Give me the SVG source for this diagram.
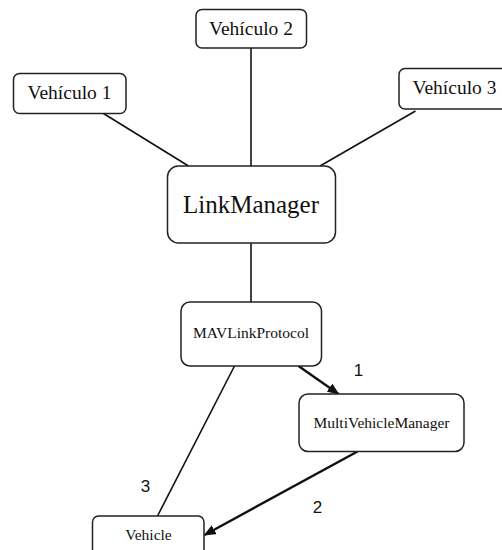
<svg xmlns="http://www.w3.org/2000/svg" width="502" height="550" viewBox="0 0 502 550">
<style>
.box{fill:#fff;stroke:#222;stroke-width:1.5}
.t{font-family:"Liberation Serif","Times New Roman",serif;fill:#111;text-anchor:middle}
.n{font-family:"Liberation Sans",Arial,sans-serif;font-size:17px;fill:#111;text-anchor:middle}
.ln{stroke:#111;stroke-width:1.6;fill:none}
.ar{stroke:#111;stroke-width:2.4;fill:none;marker-end:url(#ah)}
</style>
<defs>
<marker id="ah" markerWidth="12" markerHeight="10" refX="11" refY="5" orient="auto" markerUnits="userSpaceOnUse">
<path d="M0,0 L12,5 L0,10 Z" fill="#111"/>
</marker>
</defs>
<rect width="502" height="550" fill="#fff"/>
<g id="connectors">
<line class="ln" x1="251" y1="48" x2="251" y2="166"/>
<line class="ln" x1="103.5" y1="113.5" x2="188.5" y2="166"/>
<line class="ln" x1="415.5" y1="111" x2="320" y2="166"/>
<line class="ln" x1="251" y1="243" x2="251" y2="302"/>
<line class="ar" x1="298.5" y1="366" x2="338.5" y2="394"/>
<line class="ln" x1="234.5" y1="366" x2="157.5" y2="516"/>
<line class="ar" x1="357.5" y1="451.5" x2="204.5" y2="535"/>
<text class="n" x="358.5" y="375.5">1</text>
<text class="n" x="317.5" y="512.5">2</text>
<text class="n" x="145.5" y="492">3</text>
</g>
<g id="vehiculo2">
<rect class="box" x="196" y="9.5" width="110.5" height="38.5" rx="6"/>
<text class="t" x="251" y="34.5" font-size="19.5">Vehículo 2</text>
</g>
<g id="vehiculo1">
<rect class="box" x="13.5" y="73.5" width="112.5" height="40" rx="6"/>
<text class="t" x="69.5" y="98.5" font-size="19.5">Vehículo 1</text>
</g>
<g id="vehiculo3">
<rect class="box" x="399" y="68.5" width="112" height="40.5" rx="6"/>
<text class="t" x="454.5" y="94" font-size="19.5">Vehículo 3</text>
</g>
<g id="linkmanager">
<rect class="box" x="167.5" y="166" width="168" height="77" rx="11"/>
<text class="t" x="251" y="213" font-size="25">LinkManager</text>
</g>
<g id="mavlinkprotocol">
<rect class="box" x="181" y="302" width="140.5" height="64" rx="9"/>
<text class="t" x="251" y="338" font-size="15.5">MAVLinkProtocol</text>
</g>
<g id="multivehiclemanager">
<rect class="box" x="299" y="394" width="165" height="57.5" rx="9"/>
<text class="t" x="381.5" y="428" font-size="15.5">MultiVehicleManager</text>
</g>
<g id="vehicle">
<rect class="box" x="92.5" y="516" width="111.5" height="50" rx="6"/>
<text class="t" x="148.5" y="540" font-size="15.5">Vehicle</text>
</g>
</svg>
